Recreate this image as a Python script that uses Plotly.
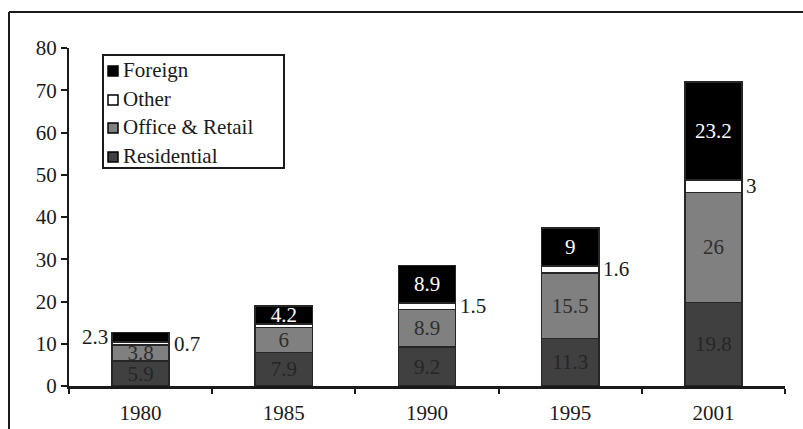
import plotly.graph_objects as go

years = ["1980", "1985", "1990", "1995", "2001"]
residential = [5.9, 7.9, 9.2, 11.3, 19.8]
office_retail = [3.8, 6.0, 8.9, 15.5, 26.0]
other = [0.7, 0.8, 1.5, 1.6, 3.0]
foreign = [2.3, 4.2, 8.9, 9.0, 23.2]
other_labels = ["0.7", "", "1.5", "1.6", "3"]
foreign_inside = [False, True, True, True, True]
y_ticks = [0, 10, 20, 30, 40, 50, 60, 70, 80]
series_names = ["Residential", "Office & Retail", "Other", "Foreign"]
series_colors = ["#404040", "#808080", "#ffffff", "#000000"]

FONT = "Liberation Serif, Times New Roman, serif"
FS = 21
EDGE = "#262626"
INK = "#1a1a1a"

fig = go.Figure()

def add_bar(name, vals, color, text=None, textcolor="#262626"):
    fig.add_trace(go.Bar(
        name=name, x=years, y=vals,
        marker=dict(color=color, line=dict(color=EDGE, width=1.5)),
        text=text, textposition="inside", insidetextanchor="middle",
        textangle=0, constraintext="none",
        textfont=dict(family=FONT, size=FS, color=textcolor),
        hoverinfo="skip", showlegend=False,
    ))

fmt = lambda v: ("%g" % v)
add_bar(series_names[0], residential, series_colors[0], [fmt(v) for v in residential], "#262626")
add_bar(series_names[1], office_retail, series_colors[1], [fmt(v) for v in office_retail], "#2e2e2e")
add_bar(series_names[2], other, series_colors[2], None)
add_bar(series_names[3], foreign, series_colors[3],
        [fmt(v) if ins else "" for v, ins in zip(foreign, foreign_inside)], "#ffffff")

annotations = []
for i, yr in enumerate(years):
    base_other = residential[i] + office_retail[i]
    if other_labels[i]:
        annotations.append(dict(
            x=i, y=base_other + other[i] / 2, xref="x", yref="y",
            text=other_labels[i], showarrow=False, xanchor="left",
            xshift=31, font=dict(family=FONT, size=FS, color=INK)))
    if not foreign_inside[i]:
        annotations.append(dict(
            x=i, y=base_other + other[i] + foreign[i] / 2, xref="x", yref="y",
            text=fmt(foreign[i]), showarrow=False, xanchor="right",
            xshift=-31, font=dict(family=FONT, size=FS, color=INK)))

W, H = 803, 429
L, R, T, B = 69, 18, 48, 43
pw, ph = W - L - R, H - T - B
def px(x):
    return (x - L) / pw
def py(y):
    return (H - B - y) / ph

shapes = [
    dict(type="line", xref="paper", yref="paper", x0=px(9), x1=px(9), y0=py(12), y1=py(H + 5),
         line=dict(color=INK, width=2)),
    dict(type="line", xref="paper", yref="paper", x0=px(9), x1=px(W + 5), y0=py(12), y1=py(12),
         line=dict(color=INK, width=2)),
    # legend box
    dict(type="rect", xref="paper", yref="paper", x0=px(103), x1=px(284), y0=py(55), y1=py(168),
         line=dict(color=INK, width=2), fillcolor="white", layer="above"),
]

# custom legend (reversed stack order)
leg_y = [70, 99, 127, 156]
for k, idx in enumerate(reversed(range(len(series_names)))):
    cy = leg_y[k]
    shapes.append(dict(type="rect", xref="paper", yref="paper",
                       x0=px(108), x1=px(118), y0=py(cy - 4), y1=py(cy + 6),
                       line=dict(color="#000000", width=1.5),
                       fillcolor=series_colors[idx], layer="above"))
    annotations.append(dict(x=px(121), y=py(cy), xref="paper", yref="paper",
                            text=series_names[idx], showarrow=False,
                            xanchor="left", yanchor="middle",
                            font=dict(family=FONT, size=FS, color=INK)))

fig.update_layout(
    width=W, height=H,
    margin=dict(l=L, r=R, t=T, b=B, autoexpand=False),
    barmode="stack", bargap=0.6,
    paper_bgcolor="white", plot_bgcolor="white",
    font=dict(family=FONT, size=FS, color=INK),
    showlegend=False,
    xaxis=dict(
        type="category", range=[-0.5, len(years) - 0.5], autorange=False,
        automargin=False,
        showline=True, linecolor=INK, linewidth=3,
        ticks="outside", ticklen=5, tickwidth=2, tickcolor=INK,
        tickson="boundaries", showgrid=False, zeroline=False, tickangle=0,
        ticklabelstandoff=6,
        tickfont=dict(family=FONT, size=FS, color=INK),
    ),
    yaxis=dict(
        range=[0, 80], autorange=False, automargin=False,
        tickvals=y_ticks, showline=True, linecolor=INK,
        linewidth=2, ticks="outside", ticklen=6, tickwidth=2, tickcolor=INK,
        showgrid=False, zeroline=False,
        tickfont=dict(family=FONT, size=FS, color=INK),
    ),
    annotations=annotations,
    shapes=shapes,
)

fig.write_html(
    "out.html",
    config={"displayModeBar": False, "staticPlot": True},
    post_script="document.body.style.margin='0';document.body.style.overflow='hidden';",
)
